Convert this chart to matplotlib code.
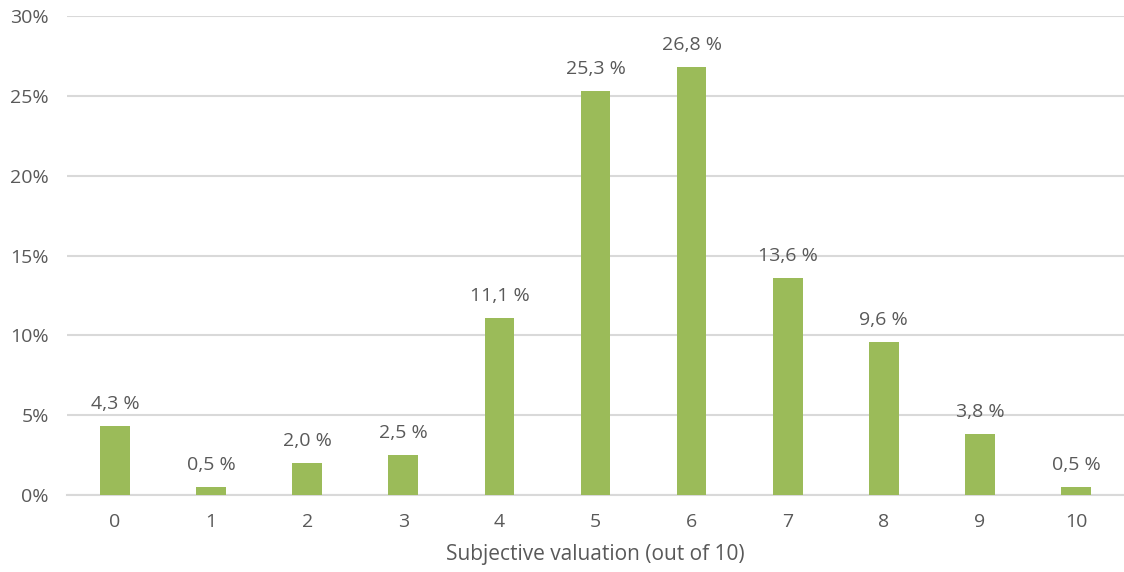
import matplotlib.pyplot as plt
from matplotlib.ticker import FuncFormatter

# Share of answers for each score
scores = list(range(11))
shares = [4.3, 0.5, 2.0, 2.5, 11.1, 25.3, 26.8, 13.6, 9.6, 3.8, 0.5]
y_ticks = [0, 5, 10, 15, 20, 25, 30]

text_color = '#595959'
plt.rcParams['font.family'] = ['Open Sans', 'DejaVu Sans']

fig = plt.figure(figsize=(11.24, 5.72), dpi=100)
ax = fig.add_axes([0.0596, 0.1346, 0.9404, 0.8374])

ax.bar(scores, shares, width=0.31, color='#9BBB59', zorder=3)

for x, v in zip(scores, shares):
    label = f'{v:.1f} %'.replace('.', ',')
    ax.annotate(label, (x, v), xytext=(0, 9.5), textcoords='offset points',
                ha='center', va='bottom', fontsize=14, color=text_color)

ax.set_xlim(-0.5, 10.5)
ax.set_ylim(0, 30)
ax.set_yticks(y_ticks)
ax.yaxis.set_major_formatter(FuncFormatter(lambda v, p: f'{v:.0f}%'))
ax.set_xticks(scores)
ax.grid(axis='y', color='#D9D9D9', linewidth=1.5, zorder=0)
ax.tick_params(length=0, labelsize=14, labelcolor=text_color)
ax.tick_params(axis='x', pad=13)
ax.tick_params(axis='y', pad=13)
for side in ['top', 'right', 'left']:
    ax.spines[side].set_visible(False)
ax.spines['bottom'].set_color('#D9D9D9')
ax.spines['bottom'].set_linewidth(1.5)

ax.set_xlabel('Subjective valuation (out of 10)', fontsize=15, color=text_color, labelpad=9)

fig.savefig('out.png', dpi=100)
